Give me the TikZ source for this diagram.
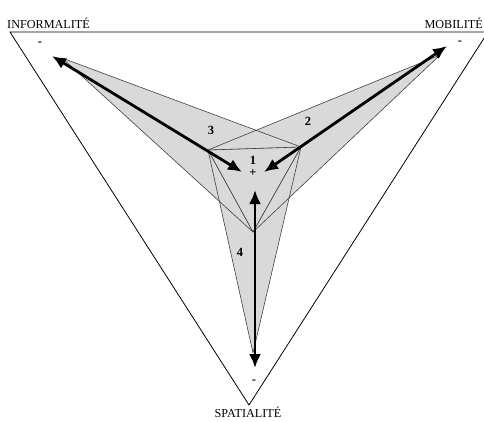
\documentclass[tikz,border=0pt]{standalone}
\usepackage{fontspec}
\setmainfont{Liberation Serif}
\usetikzlibrary{arrows.meta}
\begin{document}
\begin{tikzpicture}[x=1pt,y=-1pt,
  edge/.style={draw=black!75,line width=0.6pt,line join=round},
  inner/.style={draw=black!45,line width=0.5pt},
  frame/.style={draw=black,line width=0.8pt},
  big/.style={line width=2.8pt,{Latex[length=14pt,width=12pt]}-{Latex[length=14pt,width=12pt]}},
  lab/.style={font=\fontsize{12.2}{14}\selectfont,inner sep=0pt},
  num/.style={font=\fontsize{12.5}{14}\selectfont\bfseries,inner sep=0pt}]
\useasboundingbox (0,0) rectangle (484,422);
% big triangle
\coordinate (TL) at (10,32);
\coordinate (TR) at (488,32);
\coordinate (B) at (249,405);
\draw[frame] (TL) -- (TR) -- (B) -- cycle;
% shape vertices
\coordinate (L) at (62,58);
\coordinate (R) at (440,55);
\coordinate (D) at (253,353);
\coordinate (P) at (208,150);
\coordinate (Q) at (301,147);
\coordinate (C) at (253,232);
% gray fill (union)
\fill[gray!30] (L) -- (Q) -- (C) -- cycle;
\fill[gray!30] (R) -- (P) -- (C) -- cycle;
\fill[gray!30] (P) -- (Q) -- (D) -- cycle;
% edges
\draw[inner] (P) -- (Q) (P) -- (C) -- (Q);
\draw[edge] (L) -- (Q) -- (C) -- cycle;
\draw[edge] (R) -- (P) -- (C) -- cycle;
\draw[edge] (P) -- (Q) -- (D) -- cycle;
% arrows
\coordinate (a3o) at (52,56);
\coordinate (a3i) at (242,172);
\coordinate (a2o) at (447,46);
\coordinate (a2i) at (264,172);
\coordinate (a4i) at (255,190);
\coordinate (a4o) at (255,368);
\draw[big] (a3o) -- (a3i);
\draw[big] (a2o) -- (a2i);
\draw[big] (a4i) -- (a4o);
% labels
\node[lab,anchor=west] (inf) at (7,23) {INFORMALITÉ};
\node[lab,anchor=east] (mob) at (483,23) {MOBILITÉ};
\node[lab] (spa) at (248,412) {SPATIALITÉ};
\node[num] (n1) at (253,160) {1};
\node[num] (plus) at (253,173) {+};
\node[num] (n2) at (308,121) {2};
\node[num] (n3) at (211,130) {3};
\node[num] (n4) at (240,252) {4};
\node[num] (m1) at (40,44) {-};
\node[num] (m2) at (460,43) {-};
\node[num] (m3) at (254,382) {-};
\end{tikzpicture}
\end{document}
